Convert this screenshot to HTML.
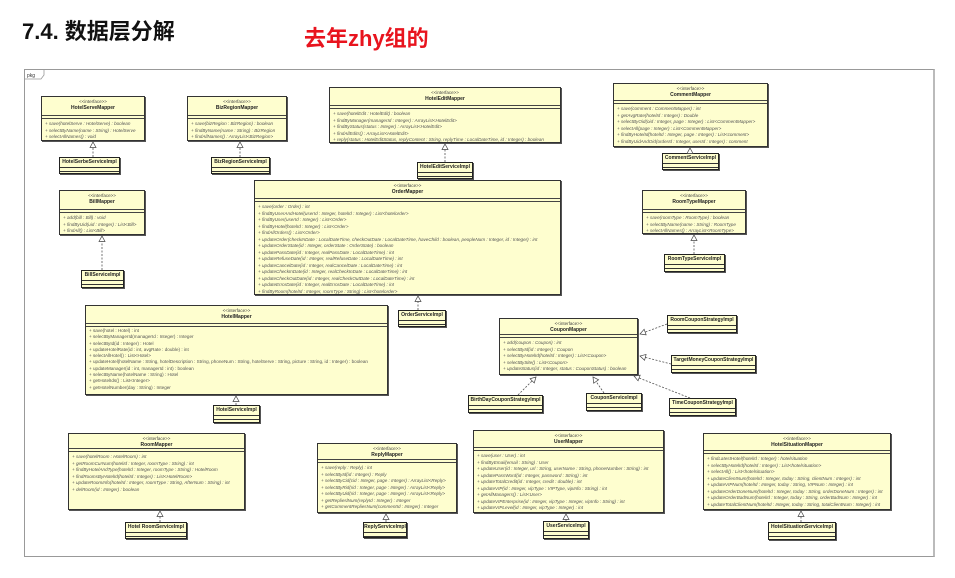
<!DOCTYPE html>
<html><head><meta charset="utf-8"><style>
body{margin:0;width:955px;height:578px;background:#fff;position:relative;overflow:hidden;font-family:"Liberation Sans","Noto Sans CJK SC",sans-serif}
.t1{position:absolute;left:22px;top:14px;font-size:22px;font-weight:bold;color:#111}
.t2{position:absolute;left:304px;top:21px;font-size:22px;font-weight:bold;color:#e8141e}
.frame{position:absolute;left:24px;top:69px;width:908px;height:486px;border:1px solid #999;border-right:2px solid #bbb}
.b{position:absolute;background:#fefecf;border:1px solid #333;box-shadow:1px 1px 0 #555;box-sizing:border-box;color:#555;overflow:hidden}
.h{border-bottom:1px solid #444;text-align:center;box-sizing:border-box;padding-top:2px}
.st{font-size:4.5px;line-height:6px;color:#444}
.n{font-size:5px;line-height:7px;font-weight:bold;color:#222}
.e{height:2px;border-bottom:1px solid #444}
.m{font-size:4.6px;line-height:6.5px;padding:2px 0 0 3px;white-space:nowrap;font-style:italic}
.i{position:absolute;background:#fefecf;border:1px solid #222;box-shadow:1px 1px 0 #555;box-sizing:border-box}
.i .n{height:9px;line-height:9px;text-align:center;border-bottom:1px solid #333}
.i .c{height:3px;border-bottom:1px solid #333}
svg{position:absolute;left:0;top:0}
</style></head><body>
<div class="t1">7.4. 数据层分解</div>
<div class="t2">去年zhy组的</div>
<div class="frame"></div>
<svg width="955" height="578" style="z-index:0">
<polyline points="24,79 41,79 44,75 44,69" fill="none" stroke="#999" stroke-width="0.8"/>
<text x="27" y="77" font-size="5" fill="#333" font-family="Liberation Sans">pkg</text>
</svg>

<div class="b" style="left:41px;top:96px;width:104px;height:45px"><div class="h" style="height:19px"><div class="st">&lt;&lt;interface&gt;&gt;</div><div class="n">HotelServeMapper</div></div><div class="e"></div><div class="m">+ save(hotelServe : HotelServe) : boolean<br>+ selectByName(name : String) : HotelServe<br>+ selectAllNames() : void</div></div>
<div class="i" style="left:59px;top:157px;width:61px;height:17px"><div class="n">HotelSerbeServiceImpl</div><div class="c"></div></div>

<div class="b" style="left:187px;top:96px;width:100px;height:45px"><div class="h" style="height:19px"><div class="st">&lt;&lt;interface&gt;&gt;</div><div class="n">BizRegionMapper</div></div><div class="e"></div><div class="m">+ save(bizRegion : BizRegion) : boolean<br>+ findByName(name : String) : BizRegion<br>+ findAllNames() : ArrayList&lt;BizRegion&gt;</div></div>
<div class="i" style="left:211px;top:157px;width:59px;height:17px"><div class="n">BizRegionServiceImpl</div><div class="c"></div></div>

<div class="b" style="left:59px;top:190px;width:86px;height:45px"><div class="h" style="height:19px"><div class="st">&lt;&lt;interface&gt;&gt;</div><div class="n">BillMapper</div></div><div class="e"></div><div class="m">+ add(bill : Bill) : void<br>+ findByUid(uid : Integer) : List&lt;Bill&gt;<br>+ findAll() : List&lt;Bill&gt;</div></div>
<div class="i" style="left:81px;top:270px;width:43px;height:18px"><div class="n">BillServiceImpl</div><div class="c"></div></div>

<div class="b" style="left:329px;top:87px;width:232px;height:56px"><div class="h" style="height:18px"><div class="st">&lt;&lt;interface&gt;&gt;</div><div class="n">HotelEditMapper</div></div><div class="e"></div><div class="m">+ save(hotelEdit : HotelEdit) : boolean<br>+ findByManager(managerId : Integer) : ArrayList&lt;HotelEdit&gt;<br>+ findByStatus(status : Integer) : ArrayList&lt;HotelEdit&gt;<br>+ findAllEdits() : ArrayList&lt;HotelEdit&gt;<br>+ reply(status : HotelEditStatus, replyContent : String, replyTime : LocalDateTime, id : Integer) : boolean</div></div>
<div class="i" style="left:417px;top:162px;width:56px;height:17px"><div class="n">HotelEditServiceImpl</div><div class="c"></div></div>

<div class="b" style="left:254px;top:180px;width:307px;height:115px"><div class="h" style="height:18px"><div class="st">&lt;&lt;interface&gt;&gt;</div><div class="n">OrderMapper</div></div><div class="e"></div><div class="m">+ save(order : Order) : int<br>+ findByUserAndHotel(userId : Integer, hotelId : Integer) : List&lt;hotelorder&gt;<br>+ findByUser(userId : Integer) : List&lt;Order&gt;<br>+ findByHotel(hotelId : Integer) : List&lt;Order&gt;<br>+ findAllOrders() : List&lt;Order&gt;<br>+ updateOrder(checkInDate : LocalDateTime, checkOutDate : LocalDateTime, haveChild : boolean, peopleNum : Integer, id : Integer) : int<br>+ updateOrderState(id : Integer, orderState : OrderState) : boolean<br>+ updatePassDate(id : Integer, realPassDate : LocalDateTime) : int<br>+ updateRefuseDate(id : Integer, realRefuseDate : LocalDateTime) : int<br>+ updateCancelDate(id : Integer, realCancelDate : LocalDateTime) : int<br>+ updateCheckInDate(id : Integer, realCheckInDate : LocalDateTime) : int<br>+ updateCheckOutDate(id : Integer, realCheckOutDate : LocalDateTime) : int<br>+ updateErrorDate(id : Integer, realErrorDate : LocalDateTime) : int<br>+ findByRoom(hotelId : Integer, roomType : String) : List&lt;hotelorder&gt;</div></div>
<div class="i" style="left:398px;top:310px;width:48px;height:17px"><div class="n">OrderServiceImpl</div><div class="c"></div></div>

<div class="b" style="left:613px;top:83px;width:155px;height:64px"><div class="h" style="height:17px"><div class="st">&lt;&lt;interface&gt;&gt;</div><div class="n">CommentMapper</div></div><div class="e"></div><div class="m">+ save(comment : CommentMapper) : int<br>+ getAvgRate(hotelId : Integer) : Double<br>+ selectByOid(oid : Integer, page : Integer) : List&lt;CommentMapper&gt;<br>+ selectAll(page : Integer) : List&lt;CommentMapper&gt;<br>+ findByHotelId(hotelId : Integer, page : Integer) : List&lt;comment&gt;<br>+ findByUidAndOid(orderId : Integer, userId : Integer) : comment</div></div>
<div class="i" style="left:662px;top:153px;width:57px;height:17px"><div class="n">CommentServiceImpl</div><div class="c"></div></div>

<div class="b" style="left:642px;top:190px;width:104px;height:44px"><div class="h" style="height:19px"><div class="st">&lt;&lt;interface&gt;&gt;</div><div class="n">RoomTypeMapper</div></div><div class="e"></div><div class="m">+ save(roomType : RoomType) : boolean<br>+ selectByName(name : String) : RoomType<br>+ selectAllNames() : ArrayList&lt;RoomType&gt;</div></div>
<div class="i" style="left:664px;top:254px;width:61px;height:18px"><div class="n">RoomTypeServiceImpl</div><div class="c"></div></div>

<div class="b" style="left:85px;top:305px;width:303px;height:90px"><div class="h" style="height:18px"><div class="st">&lt;&lt;interface&gt;&gt;</div><div class="n">HotelMapper</div></div><div class="e"></div><div class="m" style="font-style:normal;line-height:6.3px;padding-top:1px">+ save(hotel : Hotel) : int<br>+ selectByManagerId(managerId : Integer) : Integer<br>+ selectById(id : Integer) : Hotel<br>+ updateHotelRate(id : int, avgRate : double) : int<br>+ selectAllHotel() : List&lt;Hotel&gt;<br>+ updateHotel(hotelName : String, hotelDescription : String, phoneNum : String, hotelServe : String, picture : String, id : Integer) : boolean<br>+ updateManager(id : int, managerId : int) : boolean<br>+ selectByName(hotelName : String) : Hotel<br>+ getHotelIds() : List&lt;Integer&gt;<br>+ getHotelNumber(day : String) : Integer</div></div>
<div class="i" style="left:213px;top:405px;width:47px;height:18px"><div class="n">HotelServiceImpl</div><div class="c"></div></div>

<div class="b" style="left:499px;top:318px;width:139px;height:57px"><div class="h" style="height:16px"><div class="st">&lt;&lt;interface&gt;&gt;</div><div class="n">CouponMapper</div></div><div class="e"></div><div class="m">+ add(coupon : Coupon) : int<br>+ selectById(id : Integer) : Coupon<br>+ selectByHotelId(hotelId : Integer) : List&lt;Coupon&gt;<br>+ selectBySite() : List&lt;Coupon&gt;<br>+ updateStatus(id : Integer, status : CouponStatus) : boolean</div></div>
<div class="i" style="left:667px;top:315px;width:70px;height:18px"><div class="n">RoomCouponStrategyImpl</div><div class="c"></div></div>
<div class="i" style="left:671px;top:355px;width:85px;height:18px"><div class="n">TargetMoneyCouponStrategyImpl</div><div class="c"></div></div>
<div class="i" style="left:468px;top:395px;width:75px;height:18px"><div class="n">BirthDayCouponStrategyImpl</div><div class="c"></div></div>
<div class="i" style="left:586px;top:393px;width:56px;height:18px"><div class="n">CouponServiceImpl</div><div class="c"></div></div>
<div class="i" style="left:669px;top:398px;width:67px;height:18px"><div class="n">TimeCouponStrategyImpl</div><div class="c"></div></div>

<div class="b" style="left:68px;top:433px;width:177px;height:77px"><div class="h" style="height:15px"><div class="st">&lt;&lt;interface&gt;&gt;</div><div class="n">RoomMapper</div></div><div class="e"></div><div class="m">+ save(hotelRoom : HotelRoom) : int<br>+ getRoomCurNum(hotelId : Integer, roomType : String) : int<br>+ findByHotelAndType(hotelId : Integer, roomType : String) : HotelRoom<br>+ findRoomsByHotelId(hotelId : Integer) : List&lt;HotelRoom&gt;<br>+ updateRoomInfo(hotelId : Integer, roomType : String, AfterNum : String) : int<br>+ delRoom(id : Integer) : boolean</div></div>
<div class="i" style="left:125px;top:522px;width:62px;height:17px"><div class="n">Hotel RoomServiceImpl</div><div class="c"></div></div>

<div class="b" style="left:317px;top:443px;width:140px;height:70px"><div class="h" style="height:16px"><div class="st">&lt;&lt;interface&gt;&gt;</div><div class="n">ReplyMapper</div></div><div class="e"></div><div class="m">+ save(reply : Reply) : int<br>+ selectById(id : Integer) : Reply<br>+ selectByCid(cid : Integer, page : Integer) : ArrayList&lt;Reply&gt;<br>+ selectByRid(rid : Integer, page : Integer) : ArrayList&lt;Reply&gt;<br>+ selectByUid(rid : Integer, page : Integer) : ArrayList&lt;Reply&gt;<br>+ getReplieslNum(replyId : Integer) : Integer<br>+ getCommentRepliesNum(commentId : Integer) : Integer</div></div>
<div class="i" style="left:363px;top:522px;width:44px;height:16px"><div class="n">ReplyServiceImpl</div><div class="c"></div></div>

<div class="b" style="left:473px;top:430px;width:191px;height:83px"><div class="h" style="height:17px"><div class="st">&lt;&lt;interface&gt;&gt;</div><div class="n">UserMapper</div></div><div class="e"></div><div class="m">+ save(user : User) : int<br>+ findByEmail(email : String) : User<br>+ updateUser(id : Integer, url : String, userName : String, phoneNumber : String) : int<br>+ updatePassWord(id : Integer, password : String) : int<br>+ updateTotalCredit(id : Integer, credit : double) : int<br>+ updateVIP(id : Integer, vipType : VIPType, vipInfo : String) : int<br>+ getAllManagers() : List&lt;User&gt;<br>+ updateVIPEnterprise(id : Integer, vipType : Integer, vipInfo : String) : int<br>+ updateVIPLevel(id : Integer, vipType : Integer) : int</div></div>
<div class="i" style="left:543px;top:521px;width:46px;height:18px"><div class="n">UserServiceImpl</div><div class="c"></div></div>

<div class="b" style="left:703px;top:433px;width:188px;height:77px"><div class="h" style="height:17px"><div class="st">&lt;&lt;interface&gt;&gt;</div><div class="n">HotelSituationMapper</div></div><div class="e"></div><div class="m">+ findLatestHotel(hotelId : Integer) : hotelsituation<br>+ selectByHotelId(hotelId : Integer) : List&lt;hotelsituation&gt;<br>+ selectAll() : List&lt;hotelsituation&gt;<br>+ updateClientNum(hotelId : Integer, today : String, clientNum : Integer) : int<br>+ updateVIPNum(hotelId : Integer, today : String, VIPNum : Integer) : int<br>+ updateOrderDoneNum(hotelId : Integer, today : String, orderDoneNum : Integer) : int<br>+ updateOrderBadNum(hotelId : Integer, today : String, orderBadNum : Integer) : int<br>+ updateTotalClientNum(hotelId : Integer, today : String, totalClientNum : Integer) : int</div></div>
<div class="i" style="left:768px;top:522px;width:68px;height:18px"><div class="n">HotelSituationServiceImpl</div><div class="c"></div></div>

<svg width="955" height="578" style="z-index:5;pointer-events:none">
<defs><marker id="t" markerUnits="userSpaceOnUse" markerWidth="8" markerHeight="8" refX="6" refY="3.5" orient="auto"><polygon points="0.5,0.5 6,3.5 0.5,6.5" fill="#fff" stroke="#444" stroke-width="0.7"/></marker></defs>
<g stroke="#555" stroke-width="0.8" stroke-dasharray="2,1.5" fill="none" marker-end="url(#t)">
<line x1="93" y1="157" x2="93" y2="142"/>
<line x1="240" y1="157" x2="240" y2="142"/>
<line x1="102" y1="270" x2="102" y2="236"/>
<line x1="445" y1="162" x2="445" y2="144"/>
<line x1="418" y1="310" x2="418" y2="296"/>
<line x1="690" y1="153" x2="690" y2="148"/>
<line x1="694" y1="254" x2="694" y2="235"/>
<line x1="236" y1="405" x2="236" y2="396"/>
<line x1="160" y1="522" x2="160" y2="511"/>
<line x1="386" y1="522" x2="386" y2="514"/>
<line x1="566" y1="521" x2="566" y2="514"/>
<line x1="801" y1="522" x2="801" y2="511"/>
<line x1="667" y1="324" x2="640" y2="334"/>
<line x1="671" y1="364" x2="640" y2="356"/>
<line x1="518" y1="395" x2="536" y2="377"/>
<line x1="604" y1="393" x2="593" y2="377"/>
<line x1="690" y1="398" x2="634" y2="376"/>
</g></svg>
</body></html>
